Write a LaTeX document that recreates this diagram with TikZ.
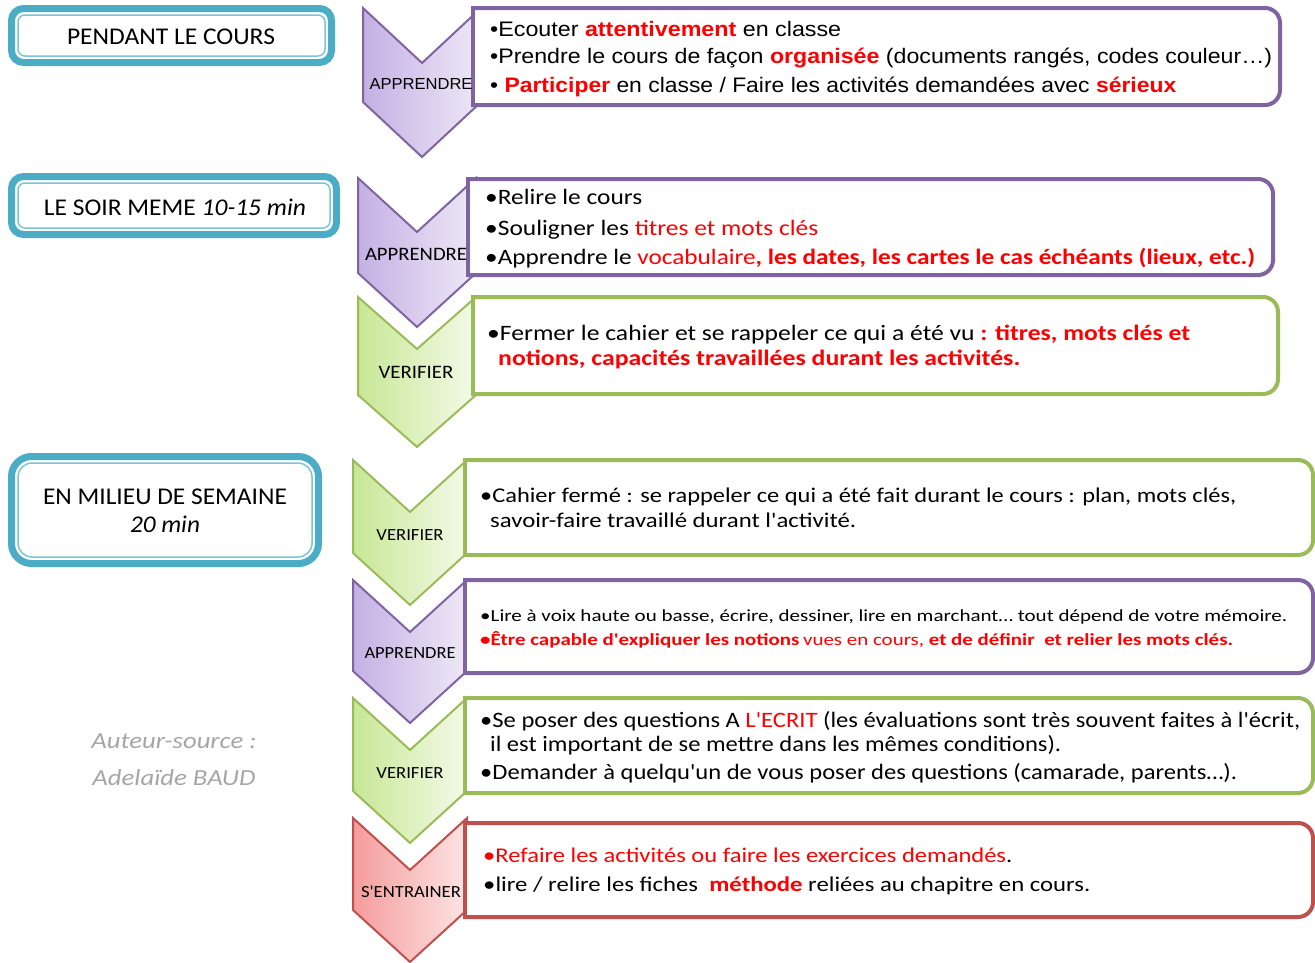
\documentclass[tikz,border=0pt]{standalone}
\usepackage{fontspec}
\setmainfont{Carlito}[Ligatures=TeXOff]
\newfontfamily\ari{Liberation Sans}[Ligatures=TeXOff]
\usepackage{graphicx}
\usepackage{xcolor}
\definecolor{rd}{HTML}{FF0000}
\definecolor{pbd}{HTML}{8064A2}
\definecolor{pl}{HTML}{C4B0E4}
\definecolor{pr}{HTML}{EEE9F7}
\definecolor{gbd}{HTML}{9BBB59}
\definecolor{gl}{HTML}{C8E796}
\definecolor{gr}{HTML}{F3FAE8}
\definecolor{rbd}{HTML}{C0504D}
\definecolor{rl}{HTML}{F59C9C}
\definecolor{rr}{HTML}{FDE4E4}
\definecolor{tl}{HTML}{4BACC6}
\definecolor{tlin}{HTML}{7CC4D8}
\definecolor{gy}{HTML}{A6A6A6}
\newcommand{\fw}[2]{\resizebox{#1pt}{\height}{#2}}
\newcommand{\redt}[1]{\textcolor{rd}{#1}}
% chevron: cx, top, half width, height, notch depth, style
\newcommand{\chev}[6]{%
  \path[#6] (#1-#3,#2) -- (#1,#2+#5) -- (#1+#3,#2) -- (#1+#3,#2+#4-#5) -- (#1,#2+#4) -- (#1-#3,#2+#4-#5) -- cycle;}
% text box, square left, rounded right: x1 y1 x2 y2 colour
\newcommand{\tbox}[5]{%
  \begin{scope}
    \clip (#1-2,#2-4) rectangle (#3+4,#4+4);
    \draw[line width=4pt, draw=#5, fill=white, rounded corners=15pt] (#1-40,#2) rectangle (#3,#4);
  \end{scope}
  \draw[line width=4pt, draw=#5] (#1,#2-2) -- (#1,#4+2);}
% header box: x1 y1 x2 y2 outer radius inner radius
\newcommand{\headbox}[6]{%
  \draw[tl, line width=7pt, rounded corners=#5pt, fill=white] (#1,#2) rectangle (#3,#4);
  \draw[tlin, line width=1.5pt, rounded corners=#6pt] (#1+6.5,#2+6.5) rectangle (#3-6.5,#4-6.5);}
\begin{document}
\begin{tikzpicture}[x=1pt,y=-1pt,
  tw/.style={anchor=mid west, inner sep=0pt, yshift=-5pt},
  tc/.style={anchor=mid, inner sep=0pt, yshift=-5pt},
  purp/.style={draw=pbd, line width=2pt, left color=pl, right color=pr},
  gree/.style={draw=gbd, line width=2pt, left color=gl, right color=gr},
  reds/.style={draw=rbd, line width=2pt, left color=rl, right color=rr}]
\useasboundingbox (0,0) rectangle (1315,962);
\fill[white] (0,0) rectangle (1315,962);

% header boxes
\headbox{11.5}{8.5}{331.5}{62.5}{12}{7}
\headbox{11.5}{176.5}{336.5}{234.5}{12}{7}
\headbox{11.5}{456.5}{318.5}{563.5}{20}{14}
\node[tc, font=\fontsize{24}{28}\selectfont] (hA) at (171,37) {\fw{208}{PENDANT LE COURS}};
\node[tc, font=\fontsize{24}{28}\selectfont] (hB) at (175,208) {\fw{262}{LE SOIR MEME \textit{10-15 min}}};
\node[tc, font=\fontsize{24}{28}\selectfont] (hC1) at (165,497) {\fw{244}{EN MILIEU DE SEMAINE}};
\node[tc, font=\fontsize{24}{28}\selectfont] (hC2) at (165,525) {\fw{70}{\textit{20 min}}};
\node[tc, font=\fontsize{23}{28}\selectfont\itshape, text=gy] (au1) at (174,741) {\fw{165}{Auteur-source :}};
\node[tc, font=\fontsize{23}{28}\selectfont\itshape, text=gy] (au2) at (174,778) {\fw{163}{Adelaïde BAUD}};

% chevrons
\chev{422}{8}{59}{149}{55}{purp}
\chev{417}{178}{59}{149}{54}{purp}
\chev{417}{297}{59}{150}{52}{gree}
\chev{410}{460}{57}{145}{52}{gree}
\chev{410}{580}{57}{143}{52}{purp}
\chev{410}{698}{57}{145}{52}{gree}
\chev{410}{818}{57}{144}{52}{reds}

% text boxes
\tbox{473}{8}{1280}{105}{pbd}
\tbox{468}{179}{1273}{275}{pbd}
\tbox{473}{297}{1278}{394}{gbd}
\tbox{465}{460}{1313}{555}{gbd}
\tbox{465}{580}{1313}{673}{pbd}
\tbox{465}{698}{1313}{793}{gbd}
\tbox{465}{823}{1313}{917}{rbd}

% chevron labels
\node[tc, font=\ari\fontsize{16}{19}\selectfont] (c1) at (421,82) {\fw{103}{APPRENDRE}};
\node[tc, font=\fontsize{19}{22}\selectfont] (c2) at (416,253) {\fw{102}{APPRENDRE}};
\node[tc, font=\fontsize{19}{22}\selectfont] (c3) at (416,371) {\fw{75}{VERIFIER}};
\node[tc, font=\fontsize{17}{20}\selectfont] (c4) at (410,533) {\fw{67}{VERIFIER}};
\node[tc, font=\fontsize{17}{20}\selectfont] (c5) at (410,651) {\fw{91}{APPRENDRE}};
\node[tc, font=\fontsize{17}{20}\selectfont] (c6) at (410,771) {\fw{67}{VERIFIER}};
\node[tc, font=\fontsize{17}{20}\selectfont] (c7) at (411,890) {\fw{100}{S'ENTRAINER}};

% box 1
\node[tw, font=\ari\fontsize{21}{25}\selectfont] (b1a) at (490,29) {\fw{351}{•Ecouter \redt{\textbf{attentivement}} en classe}};
\node[tw, font=\ari\fontsize{21}{25}\selectfont] (b1b) at (490,56) {\fw{782}{•Prendre le cours de façon \redt{\textbf{organisée}} (documents rangés, codes couleur…)}};
\node[tw, font=\ari\fontsize{21}{25}\selectfont] (b1c) at (490,85) {\fw{686}{• \redt{\textbf{Participer}} en classe / Faire les activités demandées avec \redt{\textbf{sérieux}}}};

% box 2
\node[tw, font=\fontsize{22}{26}\selectfont] (b2a) at (485,197) {\fw{157}{•Relire le cours}};
\node[tw, font=\fontsize{22}{26}\selectfont] (b2b) at (485,228) {\fw{333}{•Souligner les \redt{titres et mots clés}}};
\node[tw, font=\fontsize{22}{26}\selectfont] (b2c) at (485,257) {\fw{770}{•Apprendre le \redt{vocabulaire\textbf{, les dates, les cartes le cas échéants (lieux, etc.)}}}};

% box 3
\node[tw, font=\fontsize{22}{26}\selectfont] (b3a) at (487,333) {\fw{703}{•Fermer le cahier et se rappeler ce qui a été vu \redt{\textbf{: titres, mots clés et}}}};
\node[tw, font=\fontsize{22}{26}\selectfont] (b3b) at (498,358) {\fw{522}{\redt{\textbf{notions, capacités travaillées durant les activités.}}}};

% box 4
\node[tw, font=\fontsize{21}{25}\selectfont] (b4a) at (480,495) {\fw{756}{•Cahier fermé : se rappeler ce qui a été fait durant le cours : plan, mots clés,}};
\node[tw, font=\fontsize{21}{25}\selectfont] (b4b) at (490,520) {\fw{366}{savoir-faire travaillé durant l'activité.}};

% box 5
\node[tw, font=\fontsize{17}{20}\selectfont] (b5a) at (480,614) {\fw{807}{•Lire à voix haute ou basse, écrire, dessiner, lire en marchant… tout dépend de votre mémoire.}};
\node[tw, font=\fontsize{17}{20}\selectfont] (b5b) at (480,638) {\fw{753}{\redt{\textbf{•Être capable d'expliquer les notions}\,vues en cours, \textbf{et de définir \ et relier les mots clés.}}}};

% box 6
\node[tw, font=\fontsize{22}{26}\selectfont] (b6a) at (480,720) {\fw{820}{•Se poser des questions A \redt{L'ECRIT} (les évaluations sont très souvent faites à l'écrit,}};
\node[tw, font=\fontsize{22}{26}\selectfont] (b6b) at (490,744) {\fw{571}{il est important de se mettre dans les mêmes conditions).}};
\node[tw, font=\fontsize{22}{26}\selectfont] (b6c) at (480,772) {\fw{757}{•Demander à quelqu'un de vous poser des questions (camarade, parents…).}};

% box 7
\node[tw, font=\fontsize{21}{25}\selectfont] (b7a) at (483,855) {\fw{529}{\redt{•Refaire les activités ou faire les exercices demandés}.}};
\node[tw, font=\fontsize{21}{25}\selectfont] (b7b) at (483,884) {\fw{607}{•lire / relire les fiches \ \redt{\textbf{méthode}} reliées au chapitre en cours.}};
\end{tikzpicture}
\end{document}
